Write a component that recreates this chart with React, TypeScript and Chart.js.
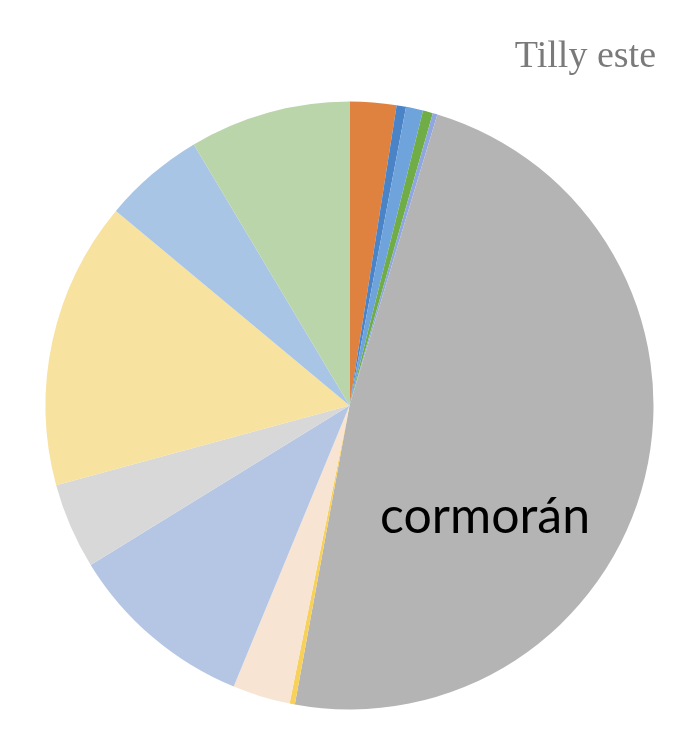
import React, { useEffect, useRef } from "react";
import { Chart, registerables } from "chart.js";

Chart.register(...registerables);

const TITLE = "Tilly este";
const categories = [
  "s1", "s2", "s3", "s4", "s5", "cormorán", "s7", "s8", "s9", "s10", "s11", "s12", "s13",
];
const values = [2.48, 0.5, 0.91, 0.53, 0.25, 48.22, 0.28, 3.06, 10.0, 4.56, 15.28, 5.39, 8.56];
const colors = [
  "#E0823F", "#4A83C6", "#6FA3DC", "#70AD47", "#8FA7DE", "#B4B4B4", "#F8D15A",
  "#F8E4D2", "#B5C6E4", "#D8D8D8", "#F8E2A0", "#A8C5E5", "#BBD5AB",
];
const labeledCategories = ["cormorán"];

const textPlugin = {
  id: "customText",
  afterDatasetsDraw(chart: any) {
    const ctx = chart.ctx;
    ctx.save();
    // title
    ctx.font = "38px 'Liberation Serif'";
    ctx.fillStyle = "#7A7A7A";
    ctx.textAlign = "right";
    ctx.textBaseline = "alphabetic";
    ctx.fillText(TITLE, chart.width - 18, 67);
    // data label
    const meta = chart.getDatasetMeta(0);
    categories.forEach((c, i) => {
      if (!labeledCategories.includes(c)) return;
      const arc: any = meta.data[i];
      const R = arc.outerRadius;
      ctx.font = "50px Lato";
      ctx.fillStyle = "#000000";
      ctx.textAlign = "center";
      ctx.fillText(c, arc.x + 0.446 * R, arc.y + 0.419 * R);
    });
    ctx.restore();
  },
};

export default function App() {
  const ref = useRef<HTMLCanvasElement | null>(null);
  useEffect(() => {
    if (!ref.current) return;
    const chart = new Chart(ref.current, {
      type: "pie",
      data: {
        labels: categories,
        datasets: [
          {
            data: values,
            backgroundColor: colors,
            borderWidth: 0,
          },
        ],
      },
      options: {
        responsive: false,
        animation: false,
        layout: { padding: { left: 45.5, right: 20.5, top: 101.5, bottom: 36.5 } },
        plugins: {
          legend: { display: false },
          tooltip: { enabled: false },
          title: { display: false },
        },
      },
      plugins: [textPlugin],
    });
    return () => chart.destroy();
  }, []);
  return (
    <div style={{ position: "fixed", left: 0, top: 0, width: 674, height: 746, background: "#fff" }}>
      <canvas ref={ref} width={674} height={746} style={{ display: "block" }} />
    </div>
  );
}
